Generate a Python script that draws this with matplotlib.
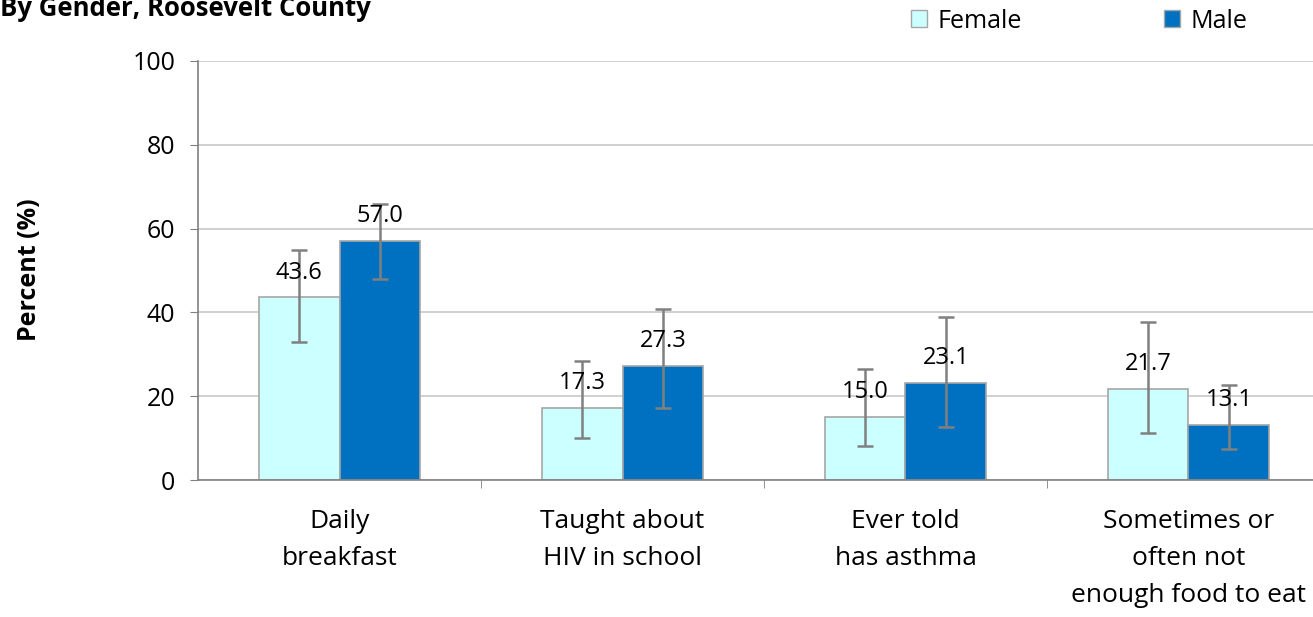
import matplotlib.pyplot as plt
from matplotlib.patches import Patch
import numpy as np

CATEGORIES = ["Daily\nbreakfast", "Taught about\nHIV in school", "Ever told\nhas asthma",
              "Sometimes or\noften not\nenough food to eat"]
FEMALE = [43.6, 17.3, 15.0, 21.7]
MALE = [57.0, 27.3, 23.1, 13.1]
# 95% confidence limits
FEMALE_LO = [33.0, 10.1, 8.2, 11.3]
FEMALE_HI = [54.8, 28.5, 26.4, 37.6]
MALE_LO = [47.9, 17.1, 12.6, 7.3]
MALE_HI = [65.9, 40.7, 39.0, 22.6]
YTICKS = [0, 20, 40, 60, 80, 100]

FEMALE_COLOR = "#CCFFFF"
MALE_COLOR = "#0070C0"
EDGE = "#A6A6A6"
GRID = "#C8C8C8"
ERR = "#808080"

plt.rcParams["font.family"] = ["Open Sans", "DejaVu Sans"]

W, H = 1313, 617
fig = plt.figure(figsize=(W / 100, H / 100), dpi=100)
ax = fig.add_axes([198 / W, 137 / H, 1132 / W, 419 / H])

x = np.arange(len(CATEGORIES))
w = 0.285

def draw(values, lo, hi, offset, color):
    vals = np.array(values)
    err = [vals - np.array(lo), np.array(hi) - vals]
    ax.bar(x + offset, vals, w, color=color, edgecolor=EDGE, linewidth=1.2, zorder=2)
    ax.errorbar(x + offset, vals, yerr=err, fmt="none", ecolor=ERR, elinewidth=1.8,
                capsize=6, capthick=1.8, zorder=3)
    for xi, v in zip(x + offset, vals):
        ax.annotate(f"{v:.1f}", (xi, v), xytext=(0, 13.5), textcoords="offset points",
                    ha="center", va="baseline", fontsize=17, zorder=4)

draw(FEMALE, FEMALE_LO, FEMALE_HI, -w / 2, FEMALE_COLOR)
draw(MALE, MALE_LO, MALE_HI, w / 2, MALE_COLOR)

ax.set_xlim(-0.5, len(CATEGORIES) - 0.5)
ax.set_ylim(0, 100)
ax.set_yticks(YTICKS)
ax.tick_params(axis="y", labelsize=18, length=6, color=ERR, pad=10.5)
ax.yaxis.grid(True, color=GRID, linewidth=1.2, zorder=0)
ax.set_axisbelow(True)

ax.set_xticks(x)
ax.set_xticklabels(CATEGORIES, fontsize=19, linespacing=1.62)
ax.tick_params(axis="x", length=0, pad=21)
ax.set_xticks(np.arange(0.5, len(CATEGORIES) - 0.5), minor=True)
ax.tick_params(axis="x", which="minor", length=6, color=ERR)

for side in ("top", "right"):
    ax.spines[side].set_visible(False)
for side in ("left", "bottom"):
    ax.spines[side].set_color(ERR)
    ax.spines[side].set_linewidth(1.2)

fig.text(30 / W, 1 - 270 / H, "Percent (%)", rotation=90, fontsize=18, fontweight="bold",
         ha="center", va="center")

fig.text(0.0, 1 - 16 / H, "By Gender, Roosevelt County", fontsize=18.5, fontweight="bold",
         ha="left", va="baseline")

# one legend entry per group, spread across the top right
for label, color, left in (("Female", FEMALE_COLOR, 911), ("Male", MALE_COLOR, 1164)):
    fig.legend([Patch(facecolor=color, edgecolor=EDGE)], [label], loc="center left",
               bbox_to_anchor=(left / W, 1 - 21 / H), frameon=False, fontsize=18,
               handlelength=0.65, handleheight=0.65, handletextpad=0.4,
               borderpad=0, borderaxespad=0)

fig.savefig("out.png", dpi=100)
